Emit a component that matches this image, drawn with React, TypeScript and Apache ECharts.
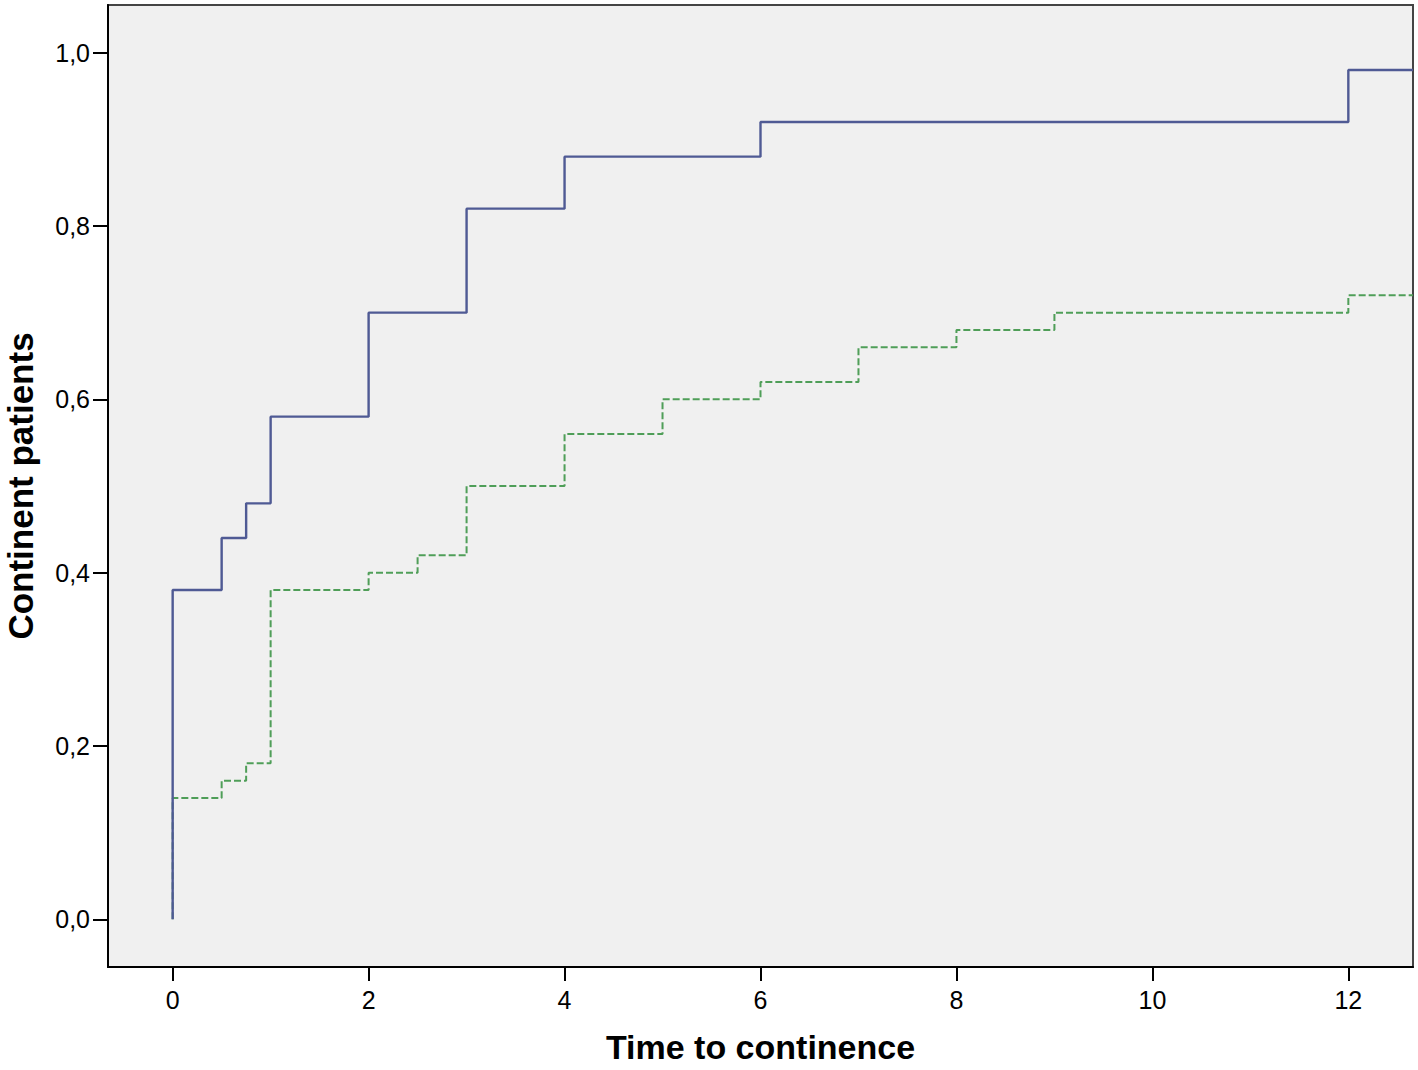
import React, { useEffect, useRef } from "react";
import * as echarts from "echarts";

// Kaplan-Meier style cumulative continence curves
const blueTimes = [0, 0, 0.5, 0.75, 1, 2, 3, 4, 6, 12, 12.66];
const blueValues = [0, 0.38, 0.44, 0.48, 0.58, 0.70, 0.82, 0.88, 0.92, 0.98, 0.98];

const greenTimes = [0, 0, 0.5, 0.75, 1, 2, 2.5, 3, 4, 5, 6, 7, 8, 9, 12, 12.66];
const greenValues = [0, 0.14, 0.16, 0.18, 0.38, 0.40, 0.42, 0.50, 0.56, 0.60, 0.62, 0.66, 0.68, 0.70, 0.72, 0.72];

const xTicks = [0, 2, 4, 6, 8, 10, 12];
const yTicks = [0, 0.2, 0.4, 0.6, 0.8, 1.0];

const xTitle = "Time to continence";
const yTitle = "Continent patients";

const FONT = "'Liberation Sans', Arial, sans-serif";

export default function App() {
  const ref = useRef<HTMLDivElement>(null);
  useEffect(() => {
    if (!ref.current) return;
    const chart = echarts.init(ref.current, null, { renderer: "svg" });
    const pairs = (xs: number[], ys: number[]) => xs.map((x, i) => [x, ys[i]]);
    chart.setOption({
      animation: false,
      backgroundColor: "#ffffff",
      grid: {
        left: 108,
        right: 5,
        top: 5,
        bottom: 103,
        containLabel: false,
        outerBoundsMode: "none",
        show: true,
        backgroundColor: "#f0f0f0",
        borderColor: "#444444",
        borderWidth: 2,
      },
      xAxis: {
        type: "value",
        min: -0.66,
        max: 12.66,
        name: xTitle,
        nameLocation: "middle",
        nameGap: 63,
        nameTextStyle: { fontFamily: FONT, fontSize: 34, lineHeight: 34, fontWeight: "bold", color: "#000" },
        splitLine: { show: false },
        axisLine: { show: true, onZero: false, lineStyle: { color: "#000", width: 2 } },
        axisTick: { show: true, length: 14, customValues: xTicks, lineStyle: { color: "#000", width: 2 } },
        axisLabel: {
          customValues: xTicks,
          fontFamily: FONT,
          fontSize: 25,
          color: "#000",
          margin: 20,
        },
      },
      yAxis: {
        type: "value",
        min: -0.055,
        max: 1.055,
        name: yTitle,
        nameLocation: "middle",
        nameGap: 70,
        nameRotate: 90,
        nameTextStyle: { fontFamily: FONT, fontSize: 35, lineHeight: 36, fontWeight: "bold", color: "#000" },
        splitLine: { show: false },
        axisLine: { show: true, onZero: false, lineStyle: { color: "#000", width: 2 } },
        axisTick: { show: true, length: 15, customValues: yTicks, lineStyle: { color: "#000", width: 2 } },
        axisLabel: {
          customValues: yTicks,
          fontFamily: FONT,
          fontSize: 25,
          color: "#000",
          margin: 18,
          formatter: (v: number) => v.toFixed(1).replace(".", ","),
        },
      },
      series: [
        {
          type: "line",
          step: "end",
          data: pairs(greenTimes, greenValues),
          showSymbol: false,
          symbol: "none",
          lineStyle: { color: "#4f9e58", width: 2, type: [7, 3] },
          z: 2,
        },
        {
          type: "line",
          step: "end",
          data: pairs(blueTimes, blueValues),
          showSymbol: false,
          symbol: "none",
          lineStyle: { color: "#4f5a94", width: 2.4 },
          z: 3,
        },
      ],
    });
    return () => chart.dispose();
  }, []);
  return <div ref={ref} style={{ width: 1418, height: 1070, position: "absolute", left: 0, top: 0 }} />;
}
